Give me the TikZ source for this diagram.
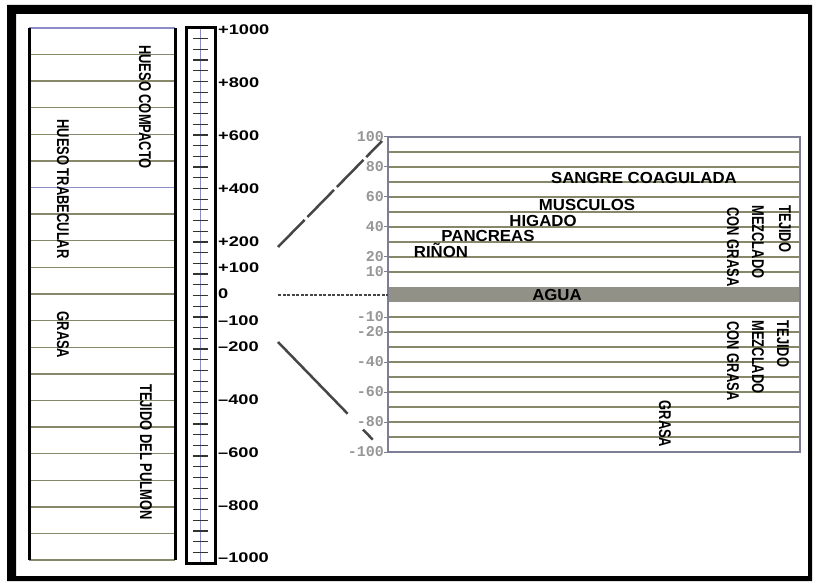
\documentclass[tikz,border=0pt]{standalone}
\usepackage{fontspec}
\usepackage{graphicx}
\setmainfont{Liberation Sans}
\newfontfamily\monofnt{Liberation Mono}
\usetikzlibrary{positioning}

\definecolor{gridline}{RGB}{135,135,105}
\definecolor{gridblue}{RGB}{140,140,200}
\definecolor{boxedge}{RGB}{125,125,150}
\definecolor{waterfill}{RGB}{145,145,135}
\definecolor{scalenum}{RGB}{150,150,150}
\newcommand{\narrowtxt}[1]{\scalebox{0.76}[1]{#1}}
\newcommand{\widetxt}[1]{\scalebox{1.05}[1]{#1}}
\newcommand{\hunum}[1]{\scalebox{1.3}[1]{#1}}

\begin{document}
\begin{tikzpicture}[x=1pt, y=-1pt,
    vlabel/.style={rotate=-90, inner sep=0pt, font=\bfseries\fontsize{17}{17}\selectfont},
    tissue/.style={inner sep=0pt, font=\bfseries\fontsize{16}{16}\selectfont},
    hulabel/.style={anchor=west, inner sep=0pt, font=\bfseries\fontsize{14}{14}\selectfont},
    zoomlabel/.style={anchor=east, inner sep=0pt, text=scalenum, font=\monofnt\bfseries\fontsize{15}{15}\selectfont},
    link/.style={line width=2.5pt, draw=gray!55!black}
  ]
  \useasboundingbox (0,0) rectangle (815,583);
  % frame
  \fill[black, even odd rule] (7,5) rectangle (812,581) (16,14) rectangle (808,576);

  % left column (tissues)
  \foreach \i in {0,...,20}
    \draw[gridline, line width=1.4pt] (29,{28+26.6*\i}) -- (175,{28+26.6*\i});
  \foreach \i in {0,6}
    \draw[gridblue, line width=1.4pt] (29,{28+26.6*\i}) -- (175,{28+26.6*\i});
  \draw[line width=3pt] (29,28) -- (29,560) (175,28) -- (175,560);
  \node[vlabel] (compacto) at (145,107) {\narrowtxt{HUESO COMPACTO}};
  \node[vlabel] (trabecular) at (63,189) {\narrowtxt{HUESO TRABECULAR}};
  \node[vlabel] (grasa) at (63,335) {\narrowtxt{GRASA}};
  \node[vlabel] (pulmon) at (146,452) {\narrowtxt{TEJIDO DEL PULMON}};

  % HU scale
  \draw[gridblue, line width=1pt] (200.5,28) -- (200.5,563);
  \foreach \k in {1,...,49}
    \draw[gray!40!black, line width=1.2pt] (193,{28+10.7*\k}) -- (208,{28+10.7*\k});
  \draw[line width=3pt] (186,28) rectangle (215,563);
  \foreach \v/\t in {1000/+1000, 800/+800, 600/+600, 400/+400, 200/+200, 100/+100, 0/0,
                     -100/\textendash100, -200/\textendash200, -400/\textendash400,
                     -600/\textendash600, -800/\textendash800, -1000/\textendash1000}
    \node[hulabel] (hu\v) at (218,{294-0.264*\v}) {\hunum{\t}};

  % zoomed panel
  \foreach \j in {1,...,9}
    \draw[gridline, line width=1.2pt] (388,{137+15*\j}) -- (800,{137+15*\j});
  \foreach \j in {1,...,9}
    \draw[gridline, line width=1.2pt] (388,{302+15*\j}) -- (800,{302+15*\j});
  \fill[waterfill] (388,287) rectangle (800,302);
  \draw[boxedge, line width=2pt] (388,137) rectangle (800,452);
  \foreach \v in {100,80,60,40,20,10} {
    \draw[boxedge, line width=1pt] (384,{287-1.5*\v}) -- (388,{287-1.5*\v});
    \node[zoomlabel] (z\v) at (384,{287-1.5*\v}) {\v};
  }
  \foreach \v in {-10,-20,-40,-60,-80,-100} {
    \draw[boxedge, line width=1pt] (384,{302-1.5*\v}) -- (388,{302-1.5*\v});
    \node[zoomlabel] (z\v) at (384,{302-1.5*\v}) {\v};
  }

  \node[tissue] (sangre) at (644,178) {\widetxt{SANGRE COAGULADA}};
  \node[tissue] (musculo) at (587,205) {\widetxt{MUSCULOS}};
  \node[tissue] (higado) at (543,221) {\widetxt{HIGADO}};
  \node[tissue] (pancreas) at (488,236) {\widetxt{PANCREAS}};
  \node[tissue] (rinon) at (441,250) {\widetxt{RIÑON}};
  \node[tissue] (agua) at (557,295) {\widetxt{AGUA}};
  \node[vlabel] (tejidoA) at (785,229) {\narrowtxt{TEJIDO}};
  \node[vlabel] (mezcladoA) at (758,242) {\narrowtxt{MEZCLADO}};
  \node[vlabel] (congrasaA) at (733,247) {\narrowtxt{CON GRASA}};
  \node[vlabel] (tejidoB) at (783,344) {\narrowtxt{TEJIDO}};
  \node[vlabel] (mezcladoB) at (758,357) {\narrowtxt{MEZCLADO}};
  \node[vlabel] (congrasaB) at (733,361) {\narrowtxt{CON GRASA}};
  \node[vlabel] (grasaB) at (665,424) {\narrowtxt{GRASA}};

  % links from the scale to the panel
  \coordinate (upS) at (278,247);
  \coordinate (upE) at (382,141);
  \coordinate (midS) at (278,295);
  \coordinate (midE) at (388,295);
  \coordinate (loS) at (278,342);
  \coordinate (loE) at (378,445);
  \draw[link, dash pattern=on 38pt off 4pt] (upS) -- (upE);
  \draw[link, line width=1.5pt, dash pattern=on 3pt off 1.5pt] (midS) -- (midE);
  \draw[link, dash pattern=on 100pt off 22pt on 14pt off 20pt] (loS) -- (loE);
\end{tikzpicture}
\end{document}
